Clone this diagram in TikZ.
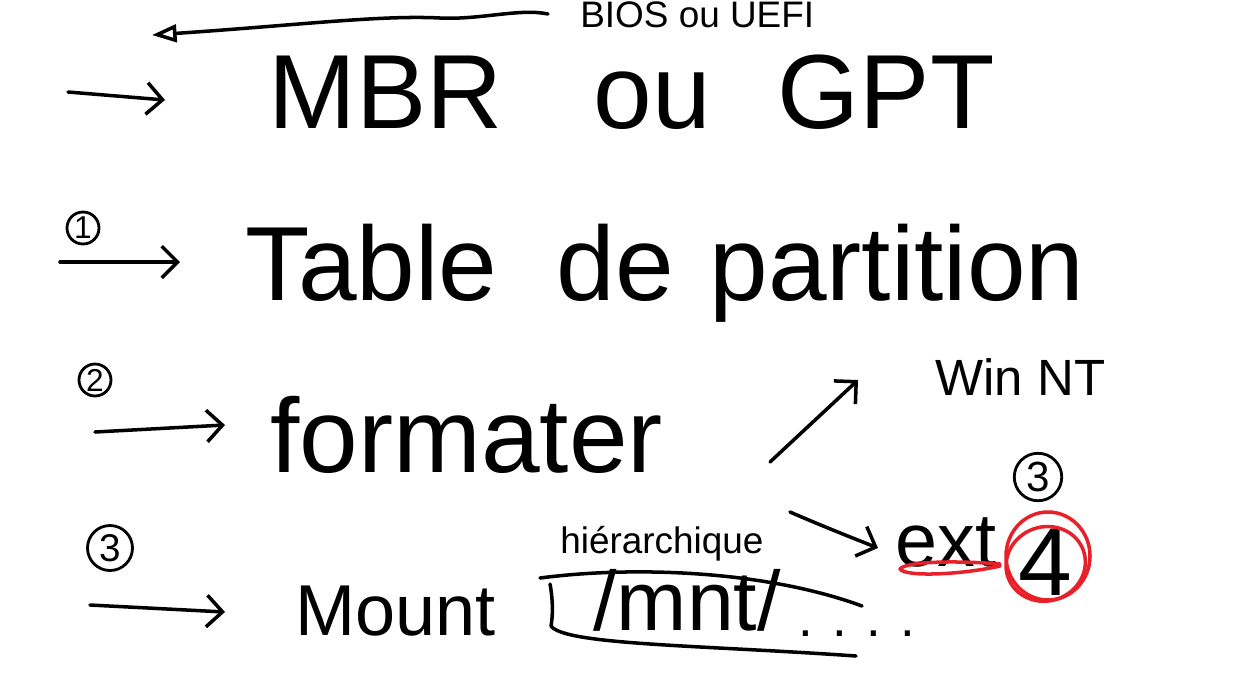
\documentclass[tikz,border=0pt]{standalone}
\usepackage{fontspec}
\setmainfont{Liberation Sans}
\usetikzlibrary{arrows.meta}
\definecolor{redpen}{HTML}{E8202A}
\newcommand\myfs[1]{\fontsize{#1}{#1}\selectfont}
\begin{document}
\begin{tikzpicture}[x=0.02cm,y=-0.02cm,
  hand/.style={line width=2pt,line cap=round,line join=round},
  chev/.style={hand,-{Straight Barb[length=9pt,width=18pt]}},
  txt/.style={anchor=base west,inner sep=0pt},
  num/.style={circle,draw,line width=1.6pt,inner sep=0pt}]
\useasboundingbox[fill=white] (0,0) rectangle (1260,694);

% texts
\node[txt,font=\myfs{60}] (mbr) at (268,128) {MBR\hspace{52pt}ou\hspace{38pt}GPT};
\node[txt,font=\myfs{21}] (bios) at (580,27) {BIOS ou UEFI};
\node[txt,font=\myfs{60}] (table) at (245,300) {Table\hspace{34pt}de\hspace{20pt}partition};
\node[txt,font=\myfs{29}] (win) at (935,395) {Win NT};
\node[txt,font=\myfs{60}] (form) at (270,472) {formater};
\node[txt,font=\myfs{43}] (ext) at (895,566) {ext};
\node[inner sep=0pt,font=\myfs{55}] (four) at (1045,562) {4};
\node[txt,font=\myfs{41}] (mount) at (295,635) {Mount};
\node[txt,font=\myfs{21}] (hier) at (560,553) {hiérarchique};
\node[txt,font=\myfs{48}] (mnt) at (593,630) {/mnt/};
\node[txt,font=\myfs{30}] (dots) at (798,636) {. . . .};

% circled numbers
\node[num,minimum size=0.64cm,font=\myfs{18}] (n1) at (83,228) {1};
\node[num,minimum size=0.64cm,font=\myfs{18}] (n2) at (95,380) {2};
\node[num,minimum size=0.9cm,font=\myfs{22}] (n3) at (110,548) {3};
\node[num,minimum size=0.95cm,font=\myfs{24}] (n3b) at (1038,477) {3};

% coordinates for free arrow ends
\coordinate (t0) at (548,14);
\coordinate (t1) at (152,35);
\coordinate (a0s) at (68,92);   \coordinate (a0e) at (165,100);
\coordinate (a1s) at (60,262);  \coordinate (a1e) at (180,262);
\coordinate (a2s) at (95,432);  \coordinate (a2e) at (225,425);
\coordinate (a3s) at (90,605);  \coordinate (a3e) at (225,612);
\coordinate (ws) at (770,462);  \coordinate (we) at (858,380);
\coordinate (es) at (790,512);  \coordinate (ee) at (878,548);

% arrows
\draw[hand,-{Triangle[open,length=14pt,width=10pt]}] (t0) .. controls (520,8) and (480,20) .. (440,18)
   .. controls (380,15) and (300,25) .. (t1);
\draw[chev] (a0s) -- (a0e);
\draw[chev] (a1s) -- (a1e);
\draw[chev] (a2s) -- (a2e);
\draw[chev] (a3s) -- (a3e);
\draw[chev] (ws) -- (we);
\draw[chev] (es) .. controls (820,525) and (845,535) .. (ee);

% bracket around /mnt/
\draw[hand] (540,578) .. controls (640,565) and (770,572) .. (862,606);
\draw[hand] (550,584) .. controls (553,600) and (553,615) .. (551,626)
   .. controls (565,645) and (700,645) .. (856,656);

% red marks
\draw[hand,redpen] (four.center) ++(3,-6) ellipse [x radius=42,y radius=44];
\draw[hand,redpen,rotate around={20:(four.center)}] (four.center) ++(0,2) ellipse [x radius=40,y radius=37];
\draw[hand,redpen] (1000,564) .. controls (950,560) and (905,562) .. (900,569)
   .. controls (905,577) and (960,575) .. (1000,566);
\end{tikzpicture}
\end{document}
